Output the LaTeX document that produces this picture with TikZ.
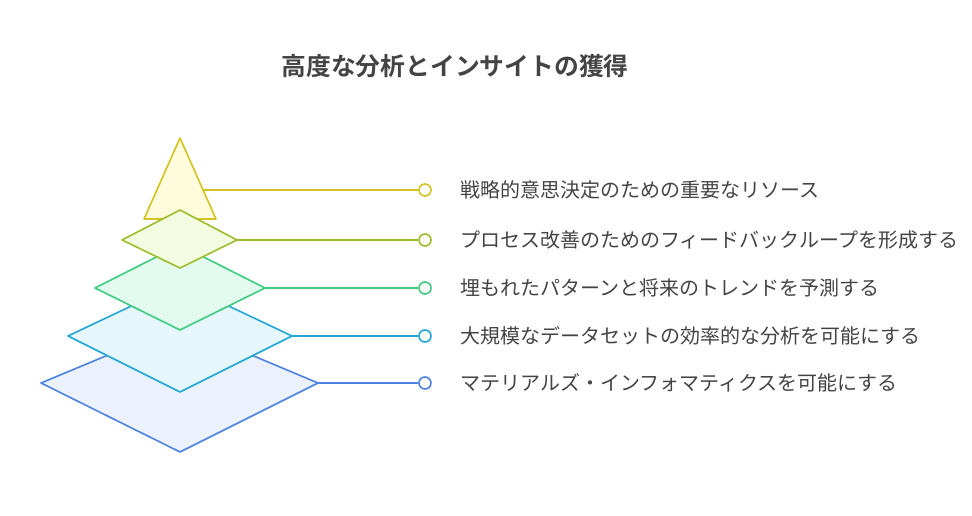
\documentclass[tikz,border=0pt]{standalone}
\usepackage{fontspec}
\setmainfont{Noto Sans CJK JP}
\newfontfamily\jpbold{Noto Sans CJK JP Bold}
\definecolor{cy}{HTML}{D4C322}\definecolor{fy}{HTML}{FFFBDD}
\definecolor{cl}{HTML}{9CBE2C}\definecolor{fl}{HTML}{F3FCE0}
\definecolor{cg}{HTML}{3DCB80}\definecolor{fg}{HTML}{E2FBEE}
\definecolor{cc}{HTML}{22A7D6}\definecolor{fc}{HTML}{E5F7FD}
\definecolor{cb}{HTML}{4C82E2}\definecolor{fb}{HTML}{ECF2FD}
\definecolor{tx}{HTML}{444444}
\tikzset{lyr/.style={line width=1.2pt,line join=round},
 dot/.style={circle,draw,line width=1.2pt,fill=white,inner sep=0pt,minimum size=9pt},
 lbl/.style={anchor=west,text=tx,font=\fontsize{15}{18}\selectfont,inner sep=0pt}}
\begin{document}
\begin{tikzpicture}[x=0.75pt,y=-0.75pt]
\useasboundingbox (0,0) rectangle (972,516);
\node[font=\jpbold\fontsize{18.6}{22}\selectfont,text=tx] (title) at (455,66) {高度な分析とインサイトの獲得};
% blue
\draw[lyr,draw=cb,fill=fb] (41,383) coordinate (b) -- (180,325) -- (318,383) coordinate (br) -- (180,452) -- cycle;
\node[dot,draw=cb] (db) at (425,383) {};
\draw[lyr,cb] (br) -- (db);
\node[lbl] (tb) at (460,383) {マテリアルズ・インフォマティクスを可能にする};
% cyan
\draw[lyr,draw=cc,fill=fc] (68,336) -- (180,283) -- (292,336) coordinate (cr) -- (180,392) -- cycle;
\node[dot,draw=cc] (dc) at (425,336) {};
\draw[lyr,cc] (cr) -- (dc);
\node[lbl] (tc) at (460,336) {大規模なデータセットの効率的な分析を可能にする};
% green
\draw[lyr,draw=cg,fill=fg] (95,288) -- (180,245) -- (265,288) coordinate (gr) -- (180,330) -- cycle;
\node[dot,draw=cg] (dg) at (425,288) {};
\draw[lyr,cg] (gr) -- (dg);
\node[lbl] (tg) at (460,288) {埋もれたパターンと将来のトレンドを予測する};
% yellow
\draw[lyr,draw=cy,fill=fy] (180,138) -- (216,219) -- (144,219) -- cycle;
\coordinate (yr) at (202,190);
\node[dot,draw=cy] (dy) at (425,190) {};
\draw[lyr,cy] (yr) -- (dy);
\node[lbl] (ty) at (460,190) {戦略的意思決定のための重要なリソース};
% lime
\draw[lyr,draw=cl,fill=fl] (122,240) -- (180,210) -- (237,240) coordinate (lr) -- (180,268) -- cycle;
\node[dot,draw=cl] (dl) at (425,240) {};
\draw[lyr,cl] (lr) -- (dl);
\node[lbl] (tl) at (460,240) {プロセス改善のためのフィードバックループを形成する};
\end{tikzpicture}
\end{document}
